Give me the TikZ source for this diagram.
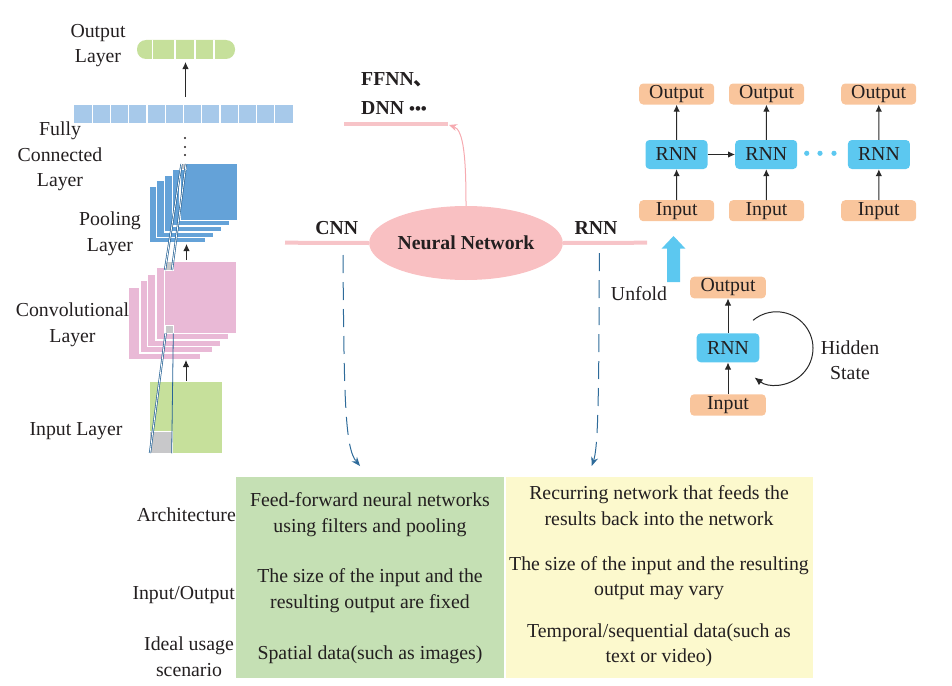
\documentclass[tikz,border=0pt]{standalone}
\usepackage{fontspec}
\setmainfont{Liberation Serif}
\newfontfamily\cjkfont{Noto Sans CJK SC}
\usetikzlibrary{arrows.meta,shapes.geometric}
\definecolor{txt}{RGB}{35,31,32}
\definecolor{ingreen}{RGB}{198,224,155}
\definecolor{fcblue}{RGB}{167,201,234}
\definecolor{poolblue}{RGB}{100,162,216}
\definecolor{convpink}{RGB}{233,185,214}
\definecolor{greysq}{RGB}{200,200,202}
\definecolor{projblue}{RGB}{40,100,150}
\definecolor{pinkline}{RGB}{247,196,200}
\definecolor{pinkfill}{RGB}{249,192,194}
\definecolor{pinkarr}{RGB}{246,170,176}
\definecolor{orangebox}{RGB}{249,197,156}
\definecolor{cyanbox}{RGB}{92,200,240}
\definecolor{dashblue}{RGB}{46,107,154}
\definecolor{arrgray}{RGB}{40,40,40}
\definecolor{tgreen}{RGB}{197,224,180}
\definecolor{tyellow}{RGB}{252,249,205}
\tikzset{
  arr/.style={-{Latex[length=7pt,width=6.5pt]}, line width=1pt, draw=arrgray},
  poolsq/.style={fill=poolblue, draw=white, line width=1.2pt},
  convsq/.style={fill=convpink, draw=white, line width=1.2pt},
  greybox/.style={fill=greysq, draw=white, line width=1pt},
  projline/.style={draw=projblue, line width=0.8pt},
  projdouble/.style={draw=projblue, line width=0.7pt, double=white, double distance=0.8pt},
  pinkbar/.style={draw=pinkline, line width=4pt},
  obox/.style={fill=orangebox, rounded corners=4pt, minimum width=75pt, minimum height=21pt, inner sep=0pt},
  rbox/.style={fill=cyanbox, rounded corners=4pt, minimum width=62pt, minimum height=29pt, inner sep=0pt},
  dasharr/.style={draw=dashblue, line width=1pt, dash pattern=on 18pt off 9pt, -{Stealth[length=9pt,width=7pt]}},
  lbl/.style={align=center, inner sep=0pt},
  bfl/.style={font=\fontsize{19.8}{25.5}\selectfont\bfseries, inner sep=0pt},
}
\begin{document}
\begin{tikzpicture}[x=1pt,y=-1pt, font=\fontsize{19.8}{25.5}\selectfont, text=txt]
\path[use as bounding box] (0,0) rectangle (952,685);

% ---------------- CNN illustration ----------------
% output layer bar
\node[fill=ingreen, rounded corners=9pt, minimum width=98pt, minimum height=19pt, inner sep=0pt] (outbar) at (186,49.5) {};
\foreach \x in {152.7,175,195,214} \draw[white, line width=1.2pt] (\x,40) -- (\x,59);
\node[lbl] (outlbl) at (98,45.5) {Output\\Layer};

% fully connected bar
\node[fill=fcblue, minimum width=219pt, minimum height=18pt, inner sep=0pt] (fc) at (183.5,114) {};
\foreach \k in {1,...,11} \draw[white, line width=1.2pt] (74+18.25*\k,105) -- (74+18.25*\k,123);
\node[lbl] (fclbl) at (60,156.5) {Fully\\Connected\\Layer};
\coordinate (fcTop) at (185.5,97);
\coordinate (outBot) at (185.5,62);
\draw[arr] (fcTop) -- (outBot);
\foreach \y in {138,147,155} \fill[txt] (185,\y) circle (1.2pt);

% pooling layer
\foreach \l/\t in {149/186,156.5/180.5,164.5/175,172.5/169}
  \filldraw[poolsq] (\l,\t) rectangle ++(57,57);
\filldraw[poolsq] (180,163.3) rectangle ++(57.3,57);
\filldraw[greybox] (181,163.8) rectangle (186.5,169.5);
\node[lbl] (poollbl) at (110,234) {Pooling\\Layer};

% convolutional layer
\foreach \l/\t in {128.3/287.3,140/280.7,147.7/274.3,156/267.7}
  \filldraw[convsq] (\l,\t) rectangle ++(72.7,72.3);
\filldraw[convsq] (164.3,261) rectangle (236.7,333.3);
\filldraw[greybox] (165.7,261.5) rectangle (173.3,270);
\filldraw[greybox] (165.7,325.7) rectangle (173.3,333.3);
\node[lbl] (convlbl) at (72.5,325) {Convolutional\\Layer};

% input layer
\filldraw[fill=ingreen, draw=white, line width=1pt] (149.3,381.7) rectangle (222.3,453.3);
\filldraw[greybox] (149.3,431) rectangle (172.3,453.3);
\node[lbl] (inlbl) at (76,431) {Input Layer};

% projection lines
\draw[projdouble] (181.5,164) -- (165,270);
\draw[projdouble] (186,164) -- (172,270);
\draw[projdouble] (165.7,333.3) -- (150,453);
\draw[projline] (173.3,333.3) -- (171.7,453.3);

% arrows between layers
\coordinate (convTop) at (186.5,260);
\coordinate (poolBot) at (186.5,244);
\draw[arr] (convTop) -- (poolBot);
\coordinate (inTop) at (186,381);
\coordinate (convBot) at (186,360);
\draw[arr] (inTop) -- (convBot);

% ---------------- Neural network hub ----------------
\node[ellipse, fill=pinkfill, minimum width=155pt, minimum height=74pt, bfl] (nn) at (466,243) {Neural Network};
\coordinate (cnnL) at (285,242.7);
\coordinate (rnnR) at (647,242.7);
\draw[pinkbar] (cnnL) -- (nn.west);
\draw[pinkbar] (nn.east) -- (rnnR);
\node[bfl] (cnnlbl) at (336.7,228.3) {CNN};
\node[bfl] (rnnlbl) at (596,228.3) {RNN};

\coordinate (ffL) at (344,124);
\coordinate (ffR) at (448,124);
\draw[pinkbar] (ffL) -- (ffR);
\draw[draw=pinkarr, line width=1pt, -{Stealth[length=8pt,width=7pt]}] (nn.north) .. controls (466,160) and (464,130) .. (449,125);
\node[bfl, anchor=west] (ffnn) at (361,80) {FFNN{\cjkfont 、}};
\node[bfl, anchor=west] (dnn) at (361,108) {DNN {\fontsize{17}{17}\selectfont •••}};

% dashed arrows down to table
\coordinate (cnnD) at (343,255);
\coordinate (cnnT) at (360,466);
\draw[dasharr] (cnnD) .. controls (344,400) and (345,448) .. (cnnT);
\coordinate (rnnD) at (599.3,253);
\coordinate (rnnT) at (591.7,466);
\draw[dasharr] (rnnD) .. controls (599,400) and (598,448) .. (rnnT);

% ---------------- RNN unfolded ----------------
\node[obox] (o1) at (676.7,94) {Output};
\node[obox] (o2) at (766.5,94) {Output};
\node[obox] (o3) at (878.7,94) {Output};
\node[rbox] (r1) at (676.5,154.5) {RNN};
\node[rbox] (r2) at (766.2,154.5) {RNN};
\node[rbox] (r3) at (878.9,154.5) {RNN};
\node[obox] (i1) at (676.7,210.7) {Input};
\node[obox] (i2) at (766.5,210.7) {Input};
\node[obox] (i3) at (878.7,210.7) {Input};
\foreach \n in {1,2,3} {
  \draw[arr] (i\n) -- (r\n);
  \draw[arr] (r\n) -- (o\n);
}
\draw[arr] (r1) -- (r2);
\foreach \x in {806.7,820,834} \fill[cyanbox] (\x,153.3) circle (2.6pt);

% unfold arrow
\fill[cyanbox] (667,282) -- (667,248.5) -- (661.7,248.5) -- (673.5,236) -- (685.3,248.5) -- (680,248.5) -- (680,282) -- cycle;
\node[inner sep=0pt] (unfold) at (639,293.3) {Unfold};

% folded RNN
\node[obox, minimum width=75.7pt, minimum height=21.6pt] (oB) at (728,287.5) {Output};
\node[rbox, minimum width=62.6pt] (rB) at (728,347.8) {RNN};
\node[obox, minimum width=75.7pt, minimum height=21.4pt] (iB) at (728,405) {Input};
\draw[arr] (iB) -- (rB);
\draw[arr] (rB) -- (oB);
\coordinate (loopC) at (776.5,348.3);
\draw[draw=arrgray, line width=1pt, -{Latex[length=8pt,width=7pt]}] ([shift={(-130:36.5)}]loopC) arc (-130:127:36.5);
\node[lbl] (hidden) at (850,360) {Hidden\\State};

% ---------------- table ----------------
\node[fill=tgreen, minimum width=268pt, minimum height=201pt, inner sep=0pt] (cg) at (370,577.8) {};
\node[fill=tyellow, minimum width=306.7pt, minimum height=201pt, inner sep=0pt] (cy) at (659.35,577.8) {};
\node[anchor=east, inner sep=0pt] (arch) at (236,515) {Architecture};
\node[anchor=east, inner sep=0pt] (io) at (235,595) {Input/Output};
\node[lbl] (ideal) at (189,656.7) {Ideal usage\\scenario};
\node[lbl] (g1) at (370,514.5) {Feed-forward neural networks\\using filters and pooling};
\node[lbl] (g2) at (370,590.8) {The size of the input and the\\resulting output are fixed};
\node[lbl] (g3) at (370,655) {Spatial data(such as images)};
\node[lbl] (y1) at (659,505.8) {Recurring network that feeds the\\results back into the network};
\node[lbl] (y2) at (659,578) {The size of the input and the resulting\\output may vary};
\node[lbl] (y3) at (659,645.3) {Temporal/sequential data(such as\\text or video)};
\end{tikzpicture}
\end{document}
